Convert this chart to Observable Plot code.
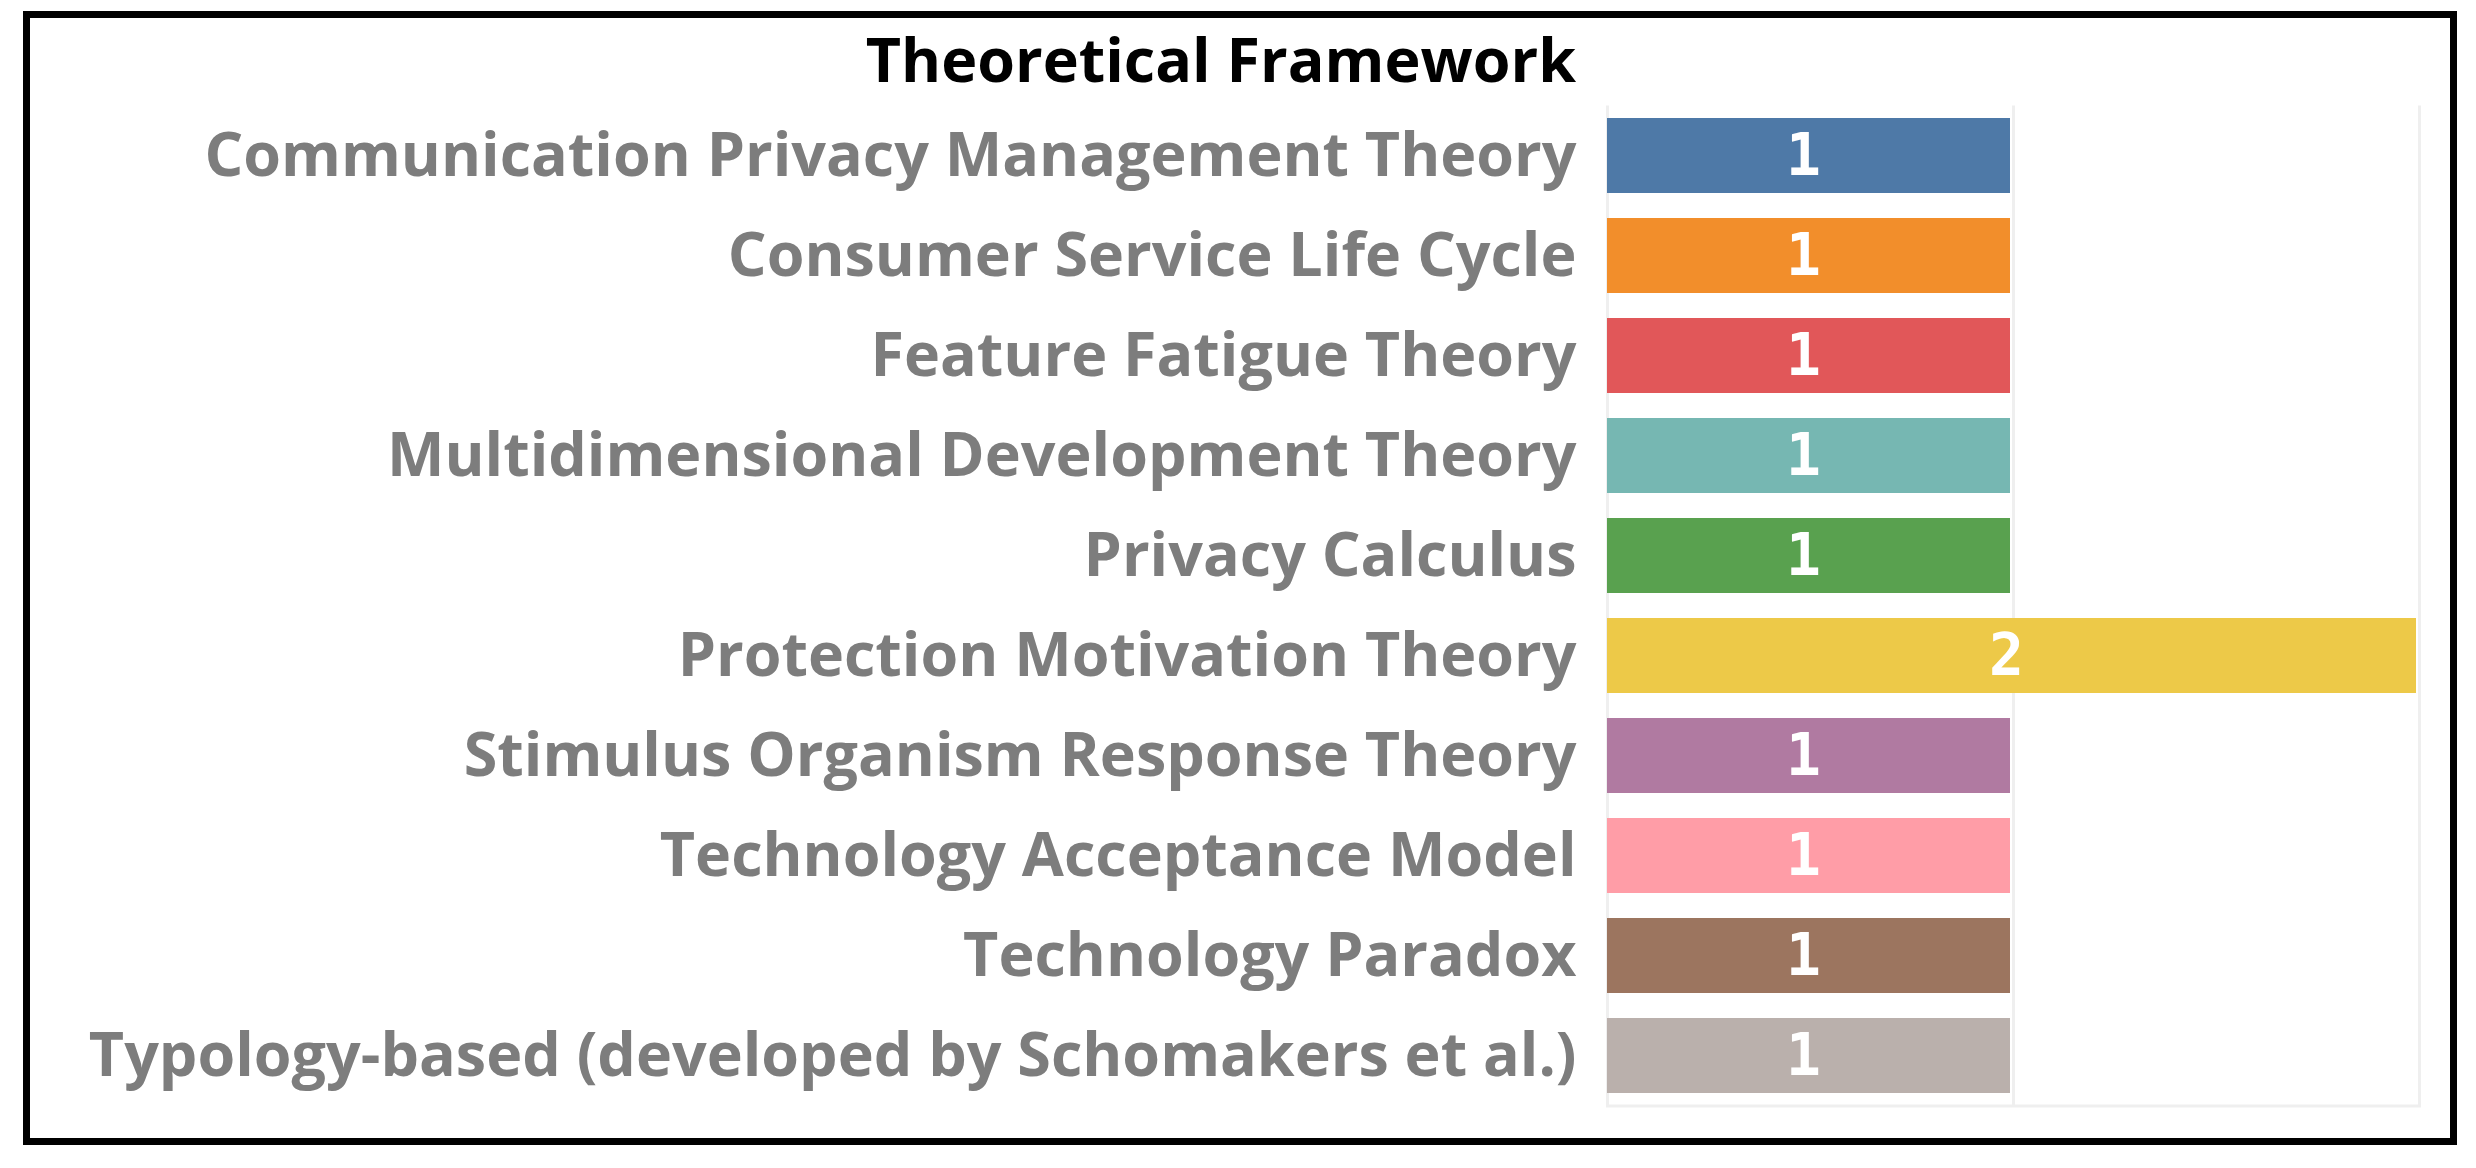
<!DOCTYPE html>
<html>
<head>
<meta charset="utf-8">
<script src="https://cdn.jsdelivr.net/npm/d3@7"></script>
<script src="https://cdn.jsdelivr.net/npm/@observablehq/plot@0.6"></script>
<style>
  html, body { margin: 0; padding: 0; background: #ffffff; }
  body { width: 2476px; height: 1168px; position: relative; overflow: hidden; }
  #frame { position: absolute; left: 23px; top: 11px; width: 2434px; height: 1134px;
           border: 7px solid #000; box-sizing: border-box; pointer-events: none; z-index: 2; }
  #title { position: absolute; left: 0; top: 0; width: 1576px; height: 100px;
           text-align: right; font-family: "Open Sans", sans-serif; font-weight: 700;
           font-size: 61px; line-height: 61px; padding-top: 28px; box-sizing: border-box; color: #000; }
  #chart { position: absolute; left: 0; top: 100px; }
</style>
</head>
<body>
<div id="frame"></div>
<div id="title">Theoretical Framework</div>
<div id="chart"></div>
<script>
const categories = [
  "Communication Privacy Management Theory",
  "Consumer Service Life Cycle",
  "Feature Fatigue Theory",
  "Multidimensional Development Theory",
  "Privacy Calculus",
  "Protection Motivation Theory",
  "Stimulus Organism Response Theory",
  "Technology Acceptance Model",
  "Technology Paradox",
  "Typology-based (developed by Schomakers et al.)"
];
const counts = [1, 1, 1, 1, 1, 2, 1, 1, 1, 1];
const colors = ["#4e79a7", "#f28e2b", "#e15759", "#76b7b2", "#59a14f",
                "#edc948", "#b07aa1", "#ff9da7", "#9c755f", "#bab0ac"];
const xTicks = [0, 1, 2];

const data = categories.map((name, i) => ({name, value: counts[i]}));

const chart = Plot.plot({
  width: 2476,
  height: 1068,
  marginLeft: 1607,
  marginRight: 57,
  marginTop: 5.5,
  marginBottom: 62.5,
  style: {fontFamily: "Open Sans, sans-serif", background: "transparent"},
  x: {domain: [0, 2], axis: null},
  y: {domain: categories, paddingInner: 0.25, paddingOuter: 0.125, label: null},
  color: {domain: categories, range: colors},
  marks: [
    Plot.ruleX(xTicks, {stroke: "#efefef", strokeWidth: 3}),
    Plot.frame({anchor: "bottom", stroke: "#efefef", strokeWidth: 3}),
    Plot.barX(data, {y: "name", x: "value", fill: "name", insetRight: 3}),
    Plot.text(data, {y: "name", x: d => d.value / 2, text: d => String(d.value),
      fill: "#ffffff", fontSize: 58, fontWeight: 700, fontFamily: "'DejaVu Sans Mono', monospace", dx: -7}),
    Plot.axisY({tickSize: 0, tickPadding: 31, fontSize: 61, fontWeight: 700, fill: "#7d7d7d", label: null})
  ]
});
document.getElementById("chart").appendChild(chart);
</script>
</body>
</html>
